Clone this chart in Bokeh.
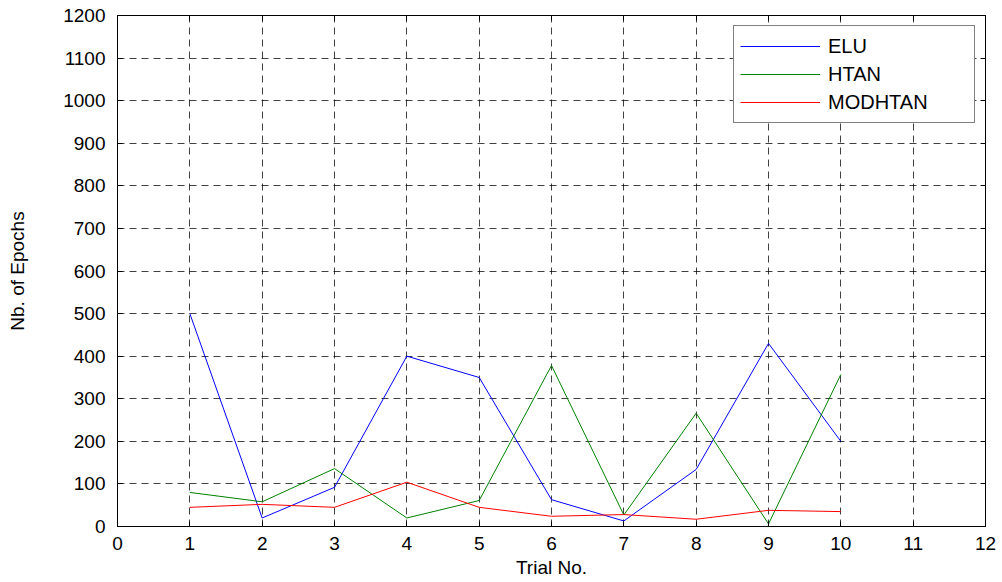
from bokeh.plotting import figure
from bokeh.models import Range1d, LinearAxis, SingleIntervalTicker, Legend, LegendItem
from bokeh.embed import file_html
from bokeh.resources import INLINE

trials = [1, 2, 3, 4, 5, 6, 7, 8, 9, 10]
elu = [500, 20, 92, 400, 350, 63, 13, 134, 430, 200]
htan = [80, 58, 136, 20, 61, 378, 27, 266, 6, 357]
modhtan = [45, 52, 45, 104, 45, 24, 28, 17, 38, 35]

FONT = "Liberation Sans"

p = figure(width=1000, height=582, output_backend="svg", toolbar_location=None,
           x_range=Range1d(0, 12), y_range=Range1d(0, 1200),
           min_border_left=117, min_border_right=15, min_border_top=15, min_border_bottom=56)

p.xaxis.ticker = SingleIntervalTicker(interval=1)
p.yaxis.ticker = SingleIntervalTicker(interval=100)

for ax in [p.xaxis[0], p.yaxis[0]]:
    ax.major_tick_in = 5
    ax.major_tick_out = 0
    ax.minor_tick_line_color = None
    ax.axis_line_color = "black"
    ax.major_tick_line_color = "black"
    ax.major_label_text_font = FONT
    ax.major_label_text_font_size = "19px"
    ax.major_label_text_color = "black"
    ax.axis_label_text_font = FONT
    ax.axis_label_text_font_size = "19px"
    ax.axis_label_text_font_style = "normal"
    ax.axis_label_text_color = "black"

p.xaxis.axis_label = "Trial No."
p.yaxis.axis_label = "Nb. of Epochs"
p.xaxis.major_label_standoff = 6
p.xaxis.axis_label_standoff = 4
p.yaxis.major_label_standoff = 8
p.yaxis.axis_label_standoff = 32

top = LinearAxis(ticker=SingleIntervalTicker(interval=1), major_tick_in=5, major_tick_out=0,
                 minor_tick_line_color=None, major_label_text_font_size="1px",
                 major_label_text_color=None, major_label_standoff=0,
                 axis_line_color="black", major_tick_line_color="black")
right = LinearAxis(ticker=SingleIntervalTicker(interval=100), major_tick_in=5, major_tick_out=0,
                   minor_tick_line_color=None, major_label_text_font_size="1px",
                   major_label_text_color=None, major_label_standoff=0,
                   axis_line_color="black", major_tick_line_color="black")
p.add_layout(top, "above")
p.add_layout(right, "right")

p.outline_line_color = "black"
for g in [p.xgrid[0], p.ygrid[0]]:
    g.grid_line_color = "black"
    g.grid_line_alpha = 0.75
    g.grid_line_dash = "7 5"
    g.grid_line_width = 1

r1 = p.line(trials, elu, line_color="#0000ff", line_width=1)
r2 = p.line(trials, htan, line_color="#008000", line_width=1)
r3 = p.line(trials, modhtan, line_color="#ff0000", line_width=1)

legend = Legend(items=[LegendItem(label="ELU", renderers=[r1]),
                       LegendItem(label="HTAN", renderers=[r2]),
                       LegendItem(label="MODHTAN", renderers=[r3])],
                location="top_right")
legend.label_text_font = FONT
legend.label_text_font_size = "20px"
legend.label_text_color = "black"
legend.glyph_width = 80
legend.glyph_height = 28
legend.label_height = 28
legend.label_width = 140
legend.label_standoff = 8
legend.spacing = 0
legend.padding = 6
legend.margin = 10
legend.border_line_color = "black"
legend.border_line_width = 1
legend.background_fill_color = "white"
legend.background_fill_alpha = 1
p.add_layout(legend)

p.background_fill_color = "white"
p.border_fill_color = "white"

open("out.html", "w").write(file_html(p, INLINE))
